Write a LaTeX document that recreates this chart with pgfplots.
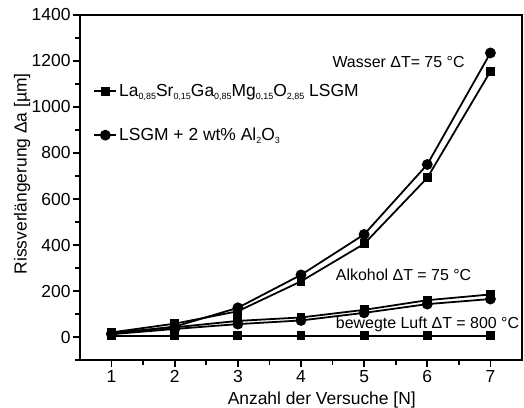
\documentclass[border=0pt]{standalone}
\usepackage{pgfplots}
\pgfplotsset{compat=1.18}
\usepackage{fontspec}
\setmainfont{Liberation Sans}
\newcommand\sub[1]{\raisebox{-0.35ex}{\fontsize{9}{10}\selectfont #1}}
\begin{document}
\begin{tikzpicture}[x=1bp,y=1bp]
\begin{axis}[
  at={(0,0)}, anchor=south west,
  scale only axis, width=442bp, height=345bp,
  xmin=0.5, xmax=7.5, ymin=-100, ymax=1400,
  xtick={1,2,3,4,5,6,7}, minor xtick={1.5,2.5,3.5,4.5,5.5,6.5},
  ytick={0,200,400,600,800,1000,1200,1400},
  minor ytick={-100,100,300,500,700,900,1100,1300},
  xtick pos=bottom, ytick pos=left,
  tick align=outside,
  major tick length=7bp, minor tick length=4.5bp,
  every tick/.style={line width=1.8pt, black},
  axis line style={line width=2.4pt},
  /pgf/number format/assume math mode=true,
  /pgf/number format/1000 sep={},
  tick label style={font=\fontsize{17.5}{19}\selectfont},
  yticklabel style={xshift=1bp},
  label style={font=\fontsize{17.5}{19}\selectfont},
  xlabel={Anzahl der Versuche [N]},
  ylabel={Rissverlängerung Δa [µm]},
  xlabel style={at={(axis description cs:0.547,-0.115)}, anchor=center},
  ylabel style={at={(axis description cs:-0.131,0.54)}, anchor=center},
  legend style={draw=none, fill=none, at={(axis description cs:0.03,0.805)}, anchor=north west,
    font=\fontsize{17.5}{19}\selectfont, row sep=26bp, inner sep=0pt},
  legend cell align=left,
  legend image code/.code={\draw[mark repeat=2,mark phase=2] plot coordinates {(0bp,0bp) (11bp,0bp) (22bp,0bp)};},
  clip=false,
]
\pgfplotsset{
  sq/.style={black, line width=1.8pt, mark=square*, mark size=3.6pt, mark options={solid}},
  ci/.style={black, line width=1.8pt, mark=*, mark size=4.5pt, mark options={solid}},
}
% Wasser
\addplot[sq] coordinates {(1,20) (2,58) (3,112) (4,242) (5,405) (6,692) (7,1155)};
\addlegendentry{La\sub{0,85}Sr\sub{0,15}Ga\sub{0,85}Mg\sub{0,15}O\sub{2,85} LSGM}
\addplot[ci] coordinates {(1,15) (2,45) (3,127) (4,270) (5,446) (6,750) (7,1235)};
\addlegendentry{LSGM + 2 wt\% Al\sub{2}O\sub{3}}
% Alkohol
\addplot[sq, forget plot] coordinates {(1,18) (2,42) (3,70) (4,85) (5,118) (6,160) (7,185)};
\addplot[ci, forget plot] coordinates {(1,12) (2,35) (3,56) (4,72) (5,105) (6,143) (7,165)};
% bewegte Luft
\addplot[sq, forget plot] coordinates {(1,5) (2,5) (3,5) (4,5) (5,5) (6,5) (7,5)};
\node[anchor=base west, font=\fontsize{16}{18}\selectfont, inner sep=0pt] at (axis cs:4.496,1170) {Wasser ΔT= 75 °C};
\node[anchor=base west, font=\fontsize{16}{18}\selectfont, inner sep=0pt] at (axis cs:4.55,244) {Alkohol ΔT = 75 °C};
\node[anchor=base west, font=\fontsize{16}{18}\selectfont, inner sep=0pt] at (axis cs:4.55,37) {bewegte Luft ΔT = 800 °C};
\end{axis}
\pgfresetboundingbox
\path[use as bounding box] (-80bp,-48bp) rectangle (444bp,360bp);
\end{tikzpicture}
\end{document}
